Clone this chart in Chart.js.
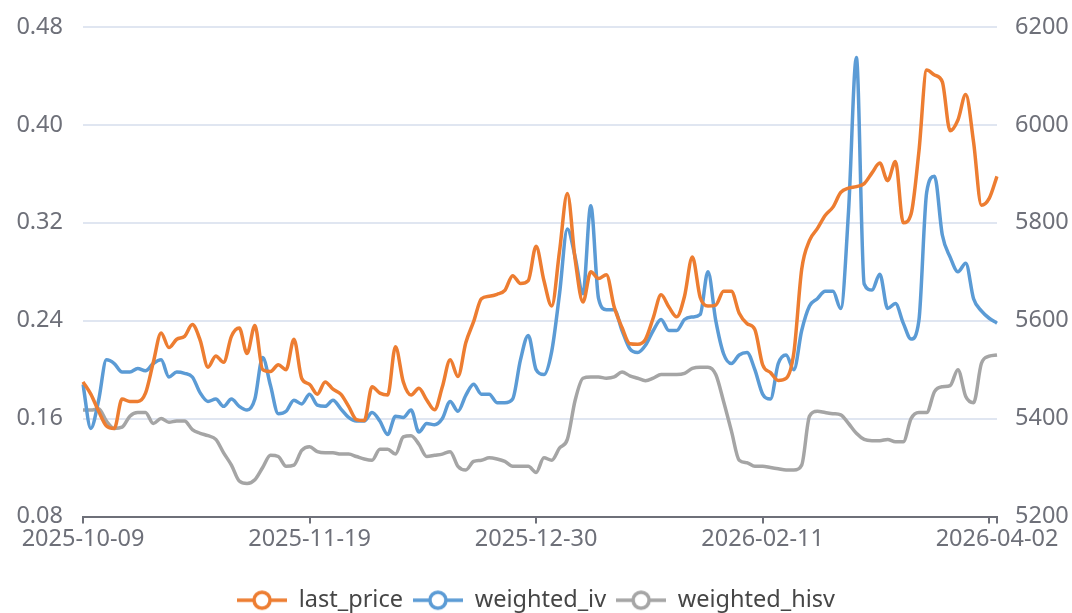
<!DOCTYPE html>
<html>
<head>
<meta charset="utf-8">
<script src="https://cdn.jsdelivr.net/npm/chart.js@4/dist/chart.umd.min.js"></script>
<style>
  html, body { margin: 0; padding: 0; background: #fff; overflow: hidden; }
  #wrap { width: 1072px; height: 622px; }
</style>
</head>
<body>
<div id="wrap"><canvas id="chart" width="1072" height="622"></canvas></div>
<script>
const dates = [
  "2025-10-09", "2025-10-10", "2025-10-13", "2025-10-14", "2025-10-15", "2025-10-16", "2025-10-17",
  "2025-10-20", "2025-10-21", "2025-10-22", "2025-10-23", "2025-10-24", "2025-10-27", "2025-10-28",
  "2025-10-29", "2025-10-30", "2025-10-31", "2025-11-03", "2025-11-04", "2025-11-05", "2025-11-06",
  "2025-11-07", "2025-11-10", "2025-11-11", "2025-11-12", "2025-11-13", "2025-11-14", "2025-11-17",
  "2025-11-18", "2025-11-19", "2025-11-20", "2025-11-21", "2025-11-24", "2025-11-25", "2025-11-26",
  "2025-11-27", "2025-11-28", "2025-12-01", "2025-12-02", "2025-12-03", "2025-12-04", "2025-12-05",
  "2025-12-08", "2025-12-09", "2025-12-10", "2025-12-11", "2025-12-12", "2025-12-15", "2025-12-16",
  "2025-12-17", "2025-12-18", "2025-12-19", "2025-12-22", "2025-12-23", "2025-12-24", "2025-12-25",
  "2025-12-26", "2025-12-29", "2025-12-30", "2025-12-31", "2026-01-05", "2026-01-06", "2026-01-07",
  "2026-01-08", "2026-01-09", "2026-01-12", "2026-01-13", "2026-01-14", "2026-01-15", "2026-01-16",
  "2026-01-19", "2026-01-20", "2026-01-21", "2026-01-22", "2026-01-23", "2026-01-26", "2026-01-27",
  "2026-01-28", "2026-01-29", "2026-01-30", "2026-02-02", "2026-02-03", "2026-02-04", "2026-02-05",
  "2026-02-06", "2026-02-09", "2026-02-10", "2026-02-11", "2026-02-12", "2026-02-13", "2026-02-24",
  "2026-02-25", "2026-02-26", "2026-02-27", "2026-03-02", "2026-03-03", "2026-03-04", "2026-03-05",
  "2026-03-06", "2026-03-09", "2026-03-10", "2026-03-11", "2026-03-12", "2026-03-13", "2026-03-16",
  "2026-03-17", "2026-03-18", "2026-03-19", "2026-03-20", "2026-03-23", "2026-03-24", "2026-03-25",
  "2026-03-26", "2026-03-27", "2026-03-30", "2026-03-31", "2026-04-01", "2026-04-02"
];

const lastPrice = [
  5475, 5450, 5415, 5385, 5380, 5440, 5435, 5435, 5452, 5515,
  5575, 5545, 5562, 5568, 5592, 5560, 5505, 5528, 5515, 5568,
  5585, 5533, 5590, 5500, 5496, 5510, 5500, 5562, 5482, 5470,
  5450, 5475, 5460, 5450, 5425, 5398, 5396, 5465, 5452, 5448,
  5547, 5475, 5448, 5462, 5438, 5418, 5465, 5520, 5486, 5555,
  5598, 5645, 5650, 5654, 5662, 5692, 5676, 5682, 5752, 5682,
  5630, 5742, 5860, 5725, 5638, 5700, 5686, 5694, 5628, 5586,
  5553, 5552, 5562, 5606, 5653, 5628, 5608, 5650, 5730, 5648,
  5630, 5632, 5660, 5660, 5615, 5594, 5582, 5510, 5494, 5478,
  5482, 5535, 5705, 5764, 5788, 5815, 5832, 5862, 5871, 5874,
  5880, 5902, 5922, 5886, 5925, 5800, 5818, 5945, 6112, 6102,
  6088, 5988, 6010, 6062, 5965, 5836, 5850, 5895
];

const weightedIv = [
  0.188, 0.152, 0.175, 0.208, 0.205, 0.198, 0.198, 0.201, 0.199, 0.205,
  0.208, 0.194, 0.198, 0.197, 0.194, 0.181, 0.174, 0.176, 0.170, 0.176,
  0.170, 0.167, 0.176, 0.210, 0.187, 0.164, 0.166, 0.175, 0.172, 0.180,
  0.171, 0.170, 0.175, 0.168, 0.161, 0.158, 0.158, 0.165, 0.158, 0.147,
  0.162, 0.161, 0.167, 0.149, 0.156, 0.155, 0.160, 0.174, 0.166, 0.179,
  0.188, 0.180, 0.180, 0.173, 0.173, 0.176, 0.208, 0.228, 0.200, 0.196,
  0.215, 0.262, 0.315, 0.292, 0.262, 0.334, 0.258, 0.249, 0.249, 0.232,
  0.217, 0.214, 0.220, 0.232, 0.241, 0.232, 0.232, 0.241, 0.243, 0.245,
  0.280, 0.240, 0.213, 0.205, 0.212, 0.214, 0.200, 0.180, 0.176, 0.205,
  0.212, 0.200, 0.232, 0.252, 0.258, 0.264, 0.264, 0.250, 0.330, 0.455,
  0.270, 0.265, 0.278, 0.250, 0.254, 0.238, 0.225, 0.240, 0.345, 0.358,
  0.310, 0.292, 0.280, 0.287, 0.258, 0.248, 0.242, 0.238
];

const weightedHisv = [
  0.167, 0.167, 0.168, 0.158, 0.152, 0.153, 0.162, 0.165, 0.165, 0.156,
  0.160, 0.157, 0.158, 0.158, 0.151, 0.148, 0.146, 0.143, 0.132, 0.122,
  0.109, 0.107, 0.110, 0.120, 0.130, 0.129, 0.121, 0.122, 0.134, 0.137,
  0.133, 0.132, 0.132, 0.131, 0.131, 0.129, 0.127, 0.126, 0.135, 0.135,
  0.131, 0.145, 0.146, 0.139, 0.129, 0.130, 0.131, 0.133, 0.121, 0.118,
  0.125, 0.126, 0.128, 0.127, 0.125, 0.121, 0.121, 0.121, 0.116, 0.128,
  0.126, 0.136, 0.143, 0.175, 0.193, 0.194, 0.194, 0.193, 0.194, 0.198,
  0.195, 0.193, 0.191, 0.193, 0.196, 0.196, 0.196, 0.197, 0.201, 0.202,
  0.202, 0.196, 0.174, 0.150, 0.126, 0.124, 0.121, 0.121, 0.120, 0.119,
  0.118, 0.118, 0.122, 0.162, 0.166, 0.165, 0.164, 0.163, 0.156, 0.148,
  0.143, 0.142, 0.142, 0.143, 0.141, 0.141, 0.160, 0.165, 0.165, 0.182,
  0.186, 0.187, 0.200, 0.178, 0.173, 0.205, 0.211, 0.212
];

const leftTicks = [0.08, 0.16, 0.24, 0.32, 0.40, 0.48];
const rightTicks = [5200, 5400, 5600, 5800, 6000, 6200];

// every 29th category gets a tick, the last date is always labelled
const TICK_EVERY = 29;

const FONT = "'Noto Sans', 'Open Sans', sans-serif";
const AXIS_COLOR = "#6e7079";

function legendIcon(color) {
  const c = document.createElement("canvas");
  c.width = 50;
  c.height = 24;
  const ctx = c.getContext("2d");
  ctx.strokeStyle = color;
  ctx.lineWidth = 3.5;
  ctx.beginPath();
  ctx.moveTo(0, 12);
  ctx.lineTo(50, 12);
  ctx.stroke();
  ctx.beginPath();
  ctx.arc(25, 12, 8, 0, Math.PI * 2);
  ctx.fillStyle = "#fff";
  ctx.fill();
  ctx.stroke();
  return c;
}

function isTick(i) {
  return i % TICK_EVERY === 0 || i === dates.length - 1;
}

function isLabel(i) {
  if (i === dates.length - 1) return true;
  return i % TICK_EVERY === 0 && dates.length - 1 - i > 3;
}

// y axes: keep the tick padding from pushing the plot area down
function fitY(width) {
  return (scale) => {
    scale.width = width;
    scale.paddingTop = 0;
    scale.paddingBottom = 0;
  };
}

const series = [
  { label: "last_price", data: lastPrice, color: "#ed7d31", axis: "yRight" },
  { label: "weighted_iv", data: weightedIv, color: "#5b9bd5", axis: "yLeft" },
  { label: "weighted_hisv", data: weightedHisv, color: "#a5a5a5", axis: "yLeft" },
];

new Chart(document.getElementById("chart"), {
  type: "line",
  data: {
    labels: dates,
    datasets: series.map((s) => ({
      label: s.label,
      data: s.data,
      yAxisID: s.axis,
      borderColor: s.color,
      backgroundColor: s.color,
      borderWidth: 3.5,
      pointRadius: 0,
      pointHoverRadius: 0,
      pointStyle: legendIcon(s.color),
      cubicInterpolationMode: "monotone",
      fill: false,
    })),
  },
  options: {
    responsive: false,
    animation: false,
    devicePixelRatio: 1,
    layout: { padding: { top: 27, left: 0, right: 0, bottom: 0 } },
    plugins: {
      tooltip: { enabled: false },
      legend: {
        position: "bottom",
        labels: {
          usePointStyle: true,
          pointStyleWidth: 50,
          padding: 10,
          color: "#464646",
          font: { family: FONT, size: 23.5 },
        },
      },
    },
    scales: {
      x: {
        type: "category",
        offset: false,
        afterFit: (scale) => { scale.height = 62; },
        border: { display: true, color: AXIS_COLOR, width: 2 },
        grid: {
          offset: false,
          drawOnChartArea: false,
          drawTicks: true,
          tickLength: 7,
          lineWidth: 2,
          color: (ctx) => (isTick(ctx.index) ? AXIS_COLOR : "rgba(0,0,0,0)"),
        },
        ticks: {
          autoSkip: false,
          maxRotation: 0,
          minRotation: 0,
          padding: 2,
          color: AXIS_COLOR,
          font: { family: FONT, size: 23.5 },
          callback: (value, i) => (isLabel(i) ? dates[i] : ""),
        },
      },
      yLeft: {
        type: "linear",
        position: "left",
        min: leftTicks[0],
        max: leftTicks[leftTicks.length - 1],
        afterFit: fitY(83),
        afterBuildTicks: (scale) => { scale.ticks = leftTicks.map((v) => ({ value: v })); },
        border: { display: false },
        grid: { color: "#e0e6f1", lineWidth: 2, drawTicks: false },
        ticks: {
          padding: 20,
          color: AXIS_COLOR,
          font: { family: FONT, size: 23.5 },
          callback: (v) => Number(v).toFixed(2),
        },
      },
      yRight: {
        type: "linear",
        position: "right",
        min: rightTicks[0],
        max: rightTicks[rightTicks.length - 1],
        afterFit: fitY(75),
        afterBuildTicks: (scale) => { scale.ticks = rightTicks.map((v) => ({ value: v })); },
        border: { display: false },
        grid: { drawOnChartArea: false, drawTicks: false },
        ticks: {
          padding: 18,
          color: AXIS_COLOR,
          font: { family: FONT, size: 23.5 },
          callback: (v) => String(v),
        },
      },
    },
  },
});
</script>
</body>
</html>
